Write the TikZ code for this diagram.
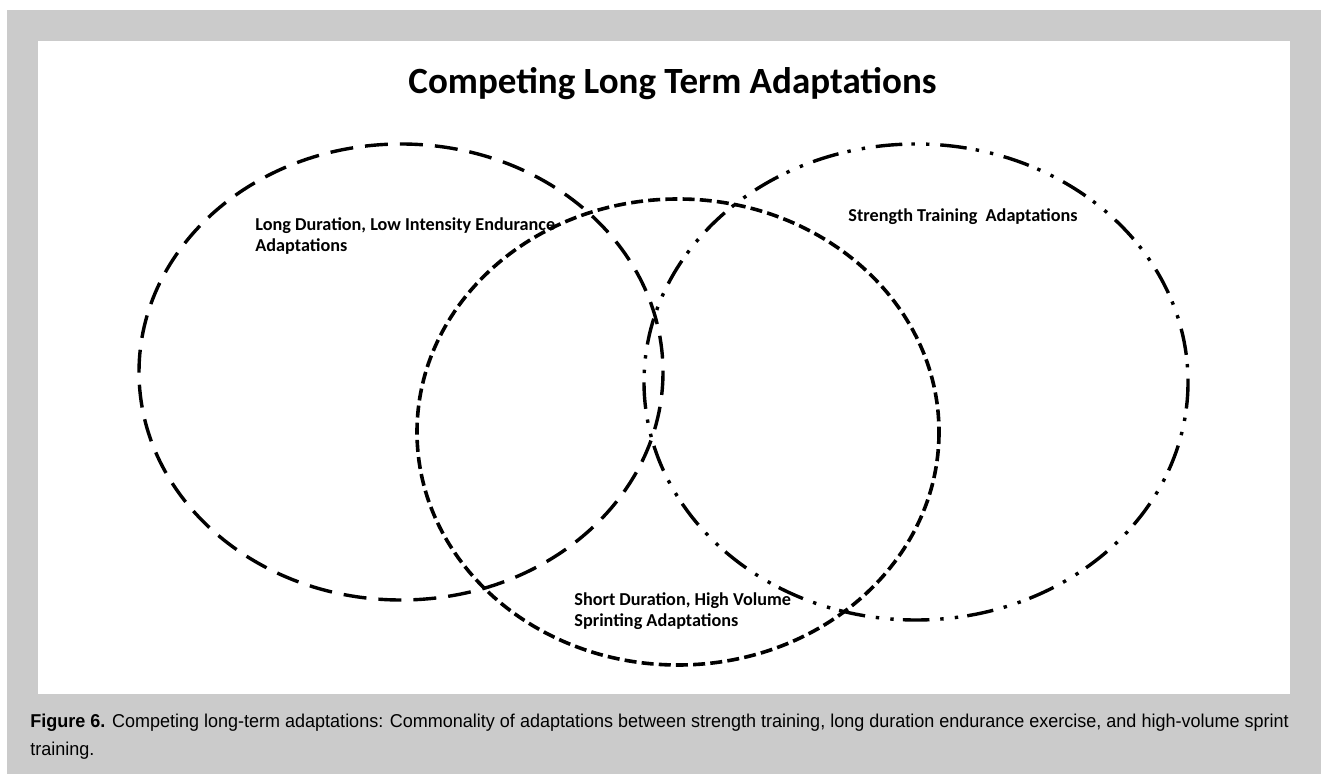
\documentclass[tikz,border=0pt]{standalone}
\usepackage{fontspec}
\newfontfamily\calibri{Carlito}
\newfontfamily\arial[FakeStretch=0.968]{Liberation Sans}
\usepackage{xcolor}
\definecolor{gris}{RGB}{203,203,203}
\usepackage{tikz}
\usetikzlibrary{positioning}

\tikzset{
  etiqueta/.style={font=\calibri\bfseries\fontsize{9.1}{10.5}\selectfont, align=left, inner sep=0pt, anchor=base west},
  largo/.style={line width=1.7pt, dash pattern=on 11.5pt off 6pt},
  corto/.style={line width=1.8pt, dash pattern=on 6pt off 2.6pt},
  puntos/.style={line width=1.7pt, dash pattern=on 13.3pt off 4.6pt on 1.7pt off 5.6pt on 1.7pt off 5.4pt},
}

\begin{document}
\begin{tikzpicture}[x=0.5pt, y=-0.5pt]
            \useasboundingbox (0,0) rectangle (1321,774);
            % Marco
            \fill[gris] (7,10) rectangle (1321,774);
            \fill[white] (38,41) rectangle (1290,694);

            % Titulo
            \node[font=\calibri\bfseries\fontsize{18.5}{22}\selectfont, inner sep=0pt, anchor=base east] (titulo) at (937,94) {Competing Long Term Adaptations};

            % Elipses
            \draw[largo] (401,372) ellipse [x radius=262, y radius=228];
            \draw[corto] (678,432) ellipse [x radius=261, y radius=233];
            \draw[puntos] (916,382) ellipse [x radius=272, y radius=238];

            % Textos (base = ultima linea)
            \node[etiqueta] (resistencia) at (255,252) {Long Duration, Low Intensity Endurance\\Adaptations};
            \node[etiqueta] (fuerza) at (848,222) {Strength Training\ \ Adaptations};
            \node[etiqueta] (sprint) at (574,626) {Short Duration, High Volume\\Sprinting Adaptations};

            % Pie de figura
            \node[font=\arial\fontsize{9.3}{14}\selectfont, align=left, inner sep=0pt, anchor=base west] (pie) at (30,755) {\textbf{Figure 6.} Competing long-term adaptations: Commonality of adaptations between strength training, long duration endurance exercise, and high-volume sprint\\training.};
        \end{tikzpicture}
\end{document}
